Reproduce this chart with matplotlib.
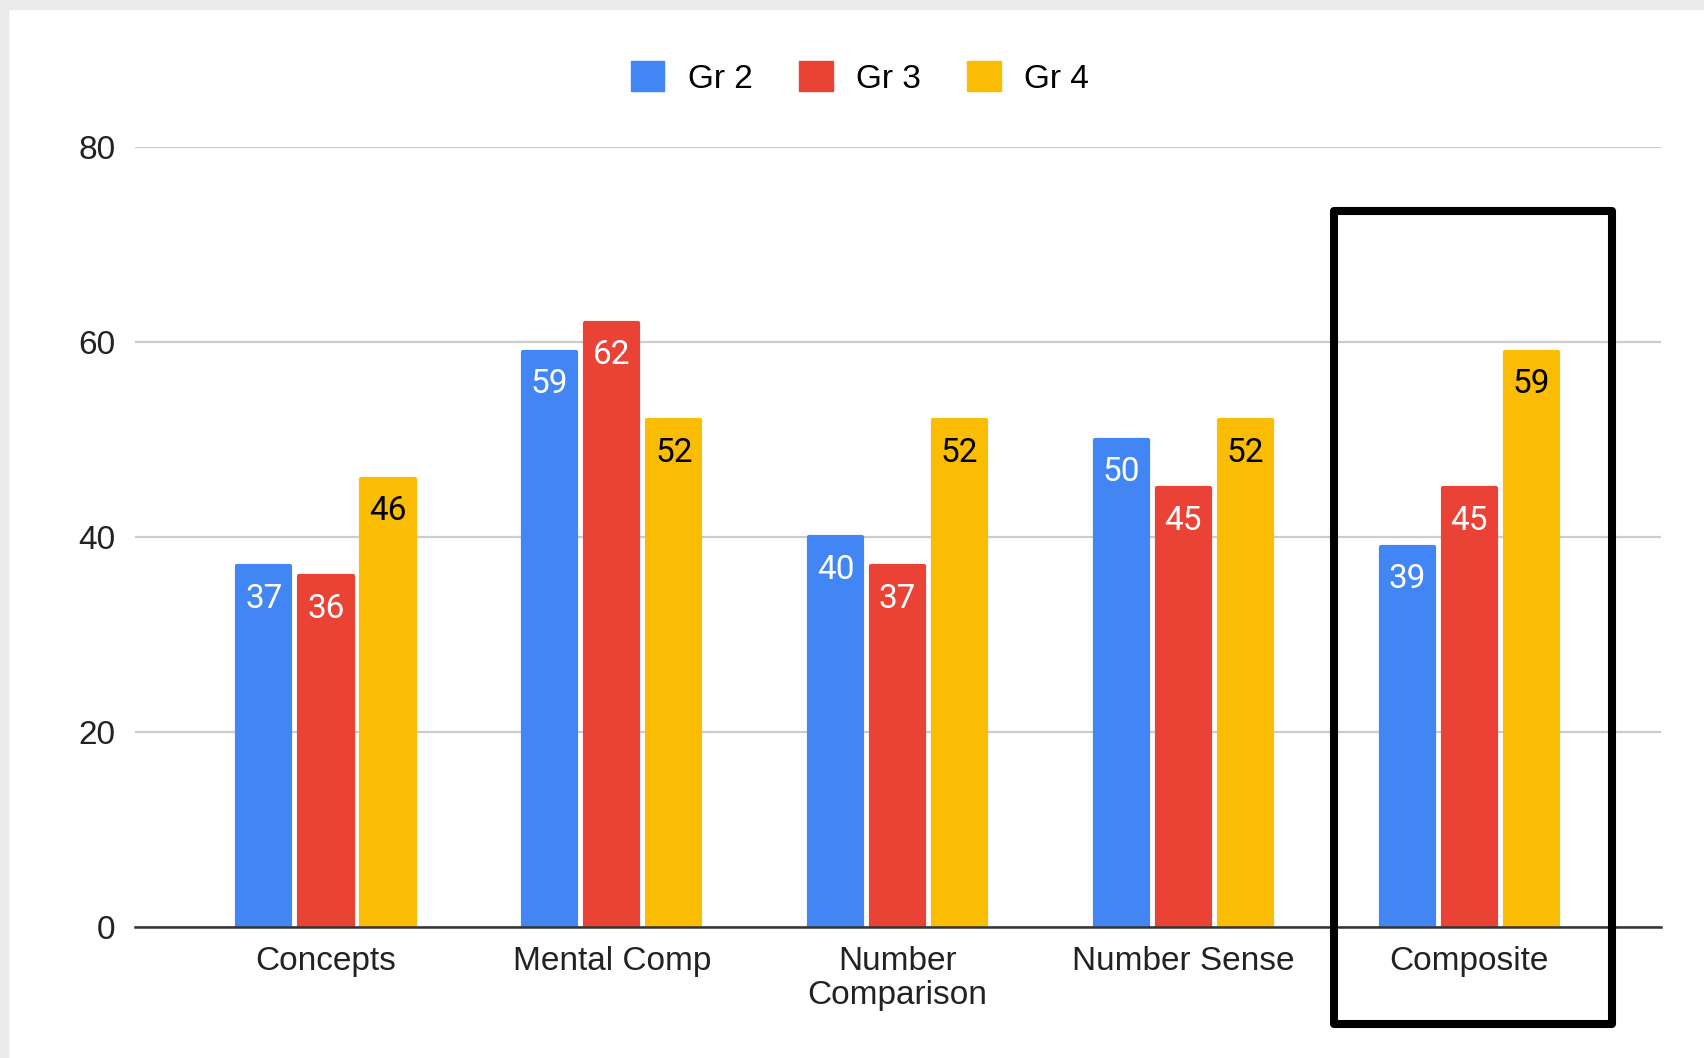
import numpy as np
import matplotlib.pyplot as plt
from matplotlib.patches import Patch, Rectangle

# Scores by subtest and grade
categories = ['Concepts', 'Mental Comp', 'Number\nComparison', 'Number Sense', 'Composite']
grades = ['Gr 2', 'Gr 3', 'Gr 4']
gr2 = [37, 59, 40, 50, 39]
gr3 = [36, 62, 37, 45, 45]
gr4 = [46, 52, 52, 52, 59]
colors = ['#4285F4', '#EA4335', '#FBBC04']
label_colors = ['white', 'white', 'black']
yticks = [0, 20, 40, 60, 80]

plt.rcParams['font.family'] = ['Liberation Sans', 'DejaVu Sans']

W, H = 1704, 1058
fig = plt.figure(figsize=(W / 100, H / 100), dpi=100)
ax = fig.add_axes([135 / W, 1 - 927 / H, (1661 - 135) / W, (927 - 147) / H])

# light grey frame strips along top and left edge
fig.patches.append(Rectangle((0, 1 - 9 / H), 1, 9 / H, transform=fig.transFigure,
                             color='#ebebeb', zorder=0))
fig.patches.append(Rectangle((0, 0), 8 / W, 1, transform=fig.transFigure,
                             color='#ebebeb', zorder=0))

x = np.arange(len(categories))
step = 0.217
width = 0.186
for i, (vals, c, lc) in enumerate(zip([gr2, gr3, gr4], colors, label_colors)):
    pos = x + (i - 1) * step
    bars = ax.bar(pos, vals, width, color=c, edgecolor=c, linewidth=3,
                  joinstyle='round', zorder=2)
    for b, v in zip(bars, vals):
        ax.annotate(str(v), (b.get_x() + b.get_width() / 2, v),
                    xytext=(0, -12), textcoords='offset points',
                    ha='center', va='top', fontsize=24, color=lc,
                    family=['Roboto', 'DejaVu Sans'], zorder=3)

ax.set_ylim(0, 80)
ax.set_xlim(-0.668, 4.671)
ax.set_yticks(yticks)
ax.set_xticks(x)
ax.set_xticklabels(categories, linespacing=1.12)
ax.tick_params(axis='both', length=0, labelsize=24, colors='#222222')
ax.tick_params(axis='x', pad=14)
ax.tick_params(axis='y', pad=14)
ax.grid(axis='y', color='#cccccc', linewidth=1.6, zorder=1)
ax.set_axisbelow(True)
for s in ['top', 'right', 'left']:
    ax.spines[s].set_visible(False)
ax.spines['bottom'].set_color('#333333')
ax.spines['bottom'].set_linewidth(1.8)
ax.spines['bottom'].set_zorder(4)

# highlight box around the composite group
box = Rectangle((3.527, -9.95), 4.5 - 3.527, 73.4 + 9.95, fill=False,
                edgecolor='black', linewidth=5.8, joinstyle='round',
                clip_on=False, zorder=5)
ax.add_patch(box)

handles = [Patch(facecolor=c, edgecolor=c, label=g) for g, c in zip(grades, colors)]
fig.legend(handles=handles, loc='center', bbox_to_anchor=(860 / W, 1 - 78 / H),
           ncol=3, frameon=False, fontsize=24, handlelength=1.0, handleheight=1.0,
           handletextpad=0.7, columnspacing=1.4)

fig.savefig('out.png', dpi=100, facecolor='white')
